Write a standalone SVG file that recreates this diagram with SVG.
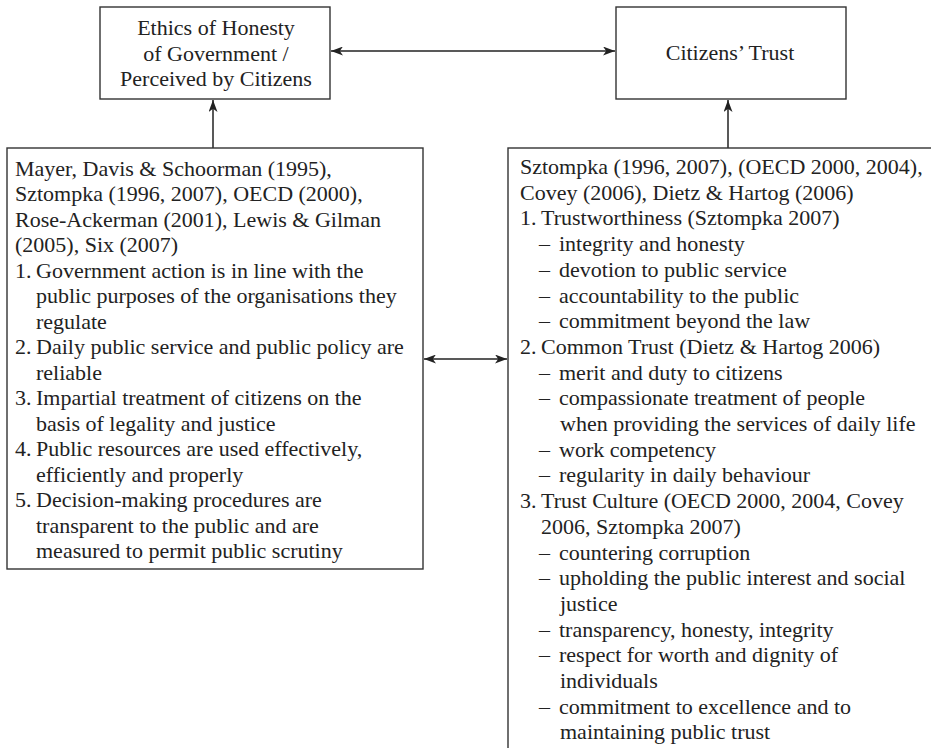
<svg xmlns="http://www.w3.org/2000/svg" width="931" height="748" viewBox="0 0 931 748">
<style>
  .box { fill: #fff; stroke: #333; stroke-width: 1.4; }
  .t { font-family: "Liberation Serif", "Times New Roman", serif; font-size: 22px; fill: #222; }
  .c { text-anchor: middle; }
  .con { stroke: #222; stroke-width: 1.5; fill: none; }
</style>
<defs>
  <marker id="ah" viewBox="0 0 12 9" refX="12" refY="4.5" markerWidth="12" markerHeight="9" markerUnits="userSpaceOnUse" orient="auto-start-reverse">
    <path d="M0,0 L12,4.5 L0,9 L3.2,4.5 Z" fill="#222"/>
  </marker>
</defs>
<rect width="931" height="748" fill="#fff"/>

<g id="connectors">
  <line class="con" x1="331" y1="51" x2="615" y2="51" marker-start="url(#ah)" marker-end="url(#ah)"/>
  <line class="con" x1="213" y1="148" x2="213" y2="100" marker-end="url(#ah)"/>
  <line class="con" x1="728" y1="148" x2="728" y2="100" marker-end="url(#ah)"/>
  <line class="con" x1="424" y1="359" x2="507" y2="359" marker-start="url(#ah)" marker-end="url(#ah)"/>
</g>

<g id="ethics">
  <rect class="box" x="100" y="7" width="230" height="92"/>
  <text class="t c" x="216" y="35">Ethics of Honesty</text>
  <text class="t c" x="216" y="61">of Government /</text>
  <text class="t c" x="216" y="86">Perceived by Citizens</text>
</g>

<g id="trust">
  <rect class="box" x="616" y="7" width="230" height="92"/>
  <text class="t c" x="730" y="60">Citizens’ Trust</text>
</g>

<g id="left-box">
  <rect class="box" x="7" y="148" width="416" height="421"/>
  <text class="t" x="15" y="175.5">Mayer, Davis &amp; Schoorman (1995),</text>
  <text class="t" x="15" y="201">Sztompka (1996, 2007), OECD (2000),</text>
  <text class="t" x="15" y="226.5">Rose-Ackerman (2001), Lewis &amp; Gilman</text>
  <text class="t" x="15" y="252">(2005), Six (2007)</text>
  <text class="t" x="15" y="277.5">1.</text><text class="t" x="36" y="277.5">Government action is in line with the</text>
  <text class="t" x="36" y="303">public purposes of the organisations they</text>
  <text class="t" x="36" y="328.5">regulate</text>
  <text class="t" x="15" y="354">2.</text><text class="t" x="36" y="354">Daily public service and public policy are</text>
  <text class="t" x="36" y="379.5">reliable</text>
  <text class="t" x="15" y="405">3.</text><text class="t" x="36" y="405">Impartial treatment of citizens on the</text>
  <text class="t" x="36" y="430.5">basis of legality and justice</text>
  <text class="t" x="15" y="456">4.</text><text class="t" x="36" y="456">Public resources are used effectively,</text>
  <text class="t" x="36" y="481.5">efficiently and properly</text>
  <text class="t" x="15" y="507">5.</text><text class="t" x="36" y="507">Decision-making procedures are</text>
  <text class="t" x="36" y="532.5">transparent to the public and are</text>
  <text class="t" x="36" y="558">measured to permit public scrutiny</text>
</g>

<g id="right-box">
  <rect class="box" x="508" y="148" width="440" height="620"/>
  <text class="t" x="520" y="174">Sztompka (1996, 2007), (OECD 2000, 2004),</text>
  <text class="t" x="520" y="199.7">Covey (2006), Dietz &amp; Hartog (2006)</text>
  <text class="t" x="520" y="225.4">1.</text><text class="t" x="541" y="225.4">Trustworthiness (Sztompka 2007)</text>
  <text class="t" x="539" y="251.1">–</text><text class="t" x="559" y="251.1">integrity and honesty</text>
  <text class="t" x="539" y="276.8">–</text><text class="t" x="559" y="276.8">devotion to public service</text>
  <text class="t" x="539" y="302.5">–</text><text class="t" x="559" y="302.5">accountability to the public</text>
  <text class="t" x="539" y="328.2">–</text><text class="t" x="559" y="328.2">commitment beyond the law</text>
  <text class="t" x="520" y="353.9">2.</text><text class="t" x="541" y="353.9">Common Trust (Dietz &amp; Hartog 2006)</text>
  <text class="t" x="539" y="379.6">–</text><text class="t" x="559" y="379.6">merit and duty to citizens</text>
  <text class="t" x="539" y="405.3">–</text><text class="t" x="559" y="405.3">compassionate treatment of people</text>
  <text class="t" x="560" y="431">when providing the services of daily life</text>
  <text class="t" x="539" y="456.7">–</text><text class="t" x="559" y="456.7">work competency</text>
  <text class="t" x="539" y="482.4">–</text><text class="t" x="559" y="482.4">regularity in daily behaviour</text>
  <text class="t" x="520" y="508.1">3.</text><text class="t" x="541" y="508.1">Trust Culture (OECD 2000, 2004, Covey</text>
  <text class="t" x="541" y="533.8">2006, Sztompka 2007)</text>
  <text class="t" x="539" y="559.5">–</text><text class="t" x="559" y="559.5">countering corruption</text>
  <text class="t" x="539" y="585.2">–</text><text class="t" x="559" y="585.2">upholding the public interest and social</text>
  <text class="t" x="560" y="610.9">justice</text>
  <text class="t" x="539" y="636.6">–</text><text class="t" x="559" y="636.6">transparency, honesty, integrity</text>
  <text class="t" x="539" y="662.3">–</text><text class="t" x="559" y="662.3">respect for worth and dignity of</text>
  <text class="t" x="560" y="688">individuals</text>
  <text class="t" x="539" y="713.7">–</text><text class="t" x="559" y="713.7">commitment to excellence and to</text>
  <text class="t" x="560" y="739.4">maintaining public trust</text>
</g>
</svg>
